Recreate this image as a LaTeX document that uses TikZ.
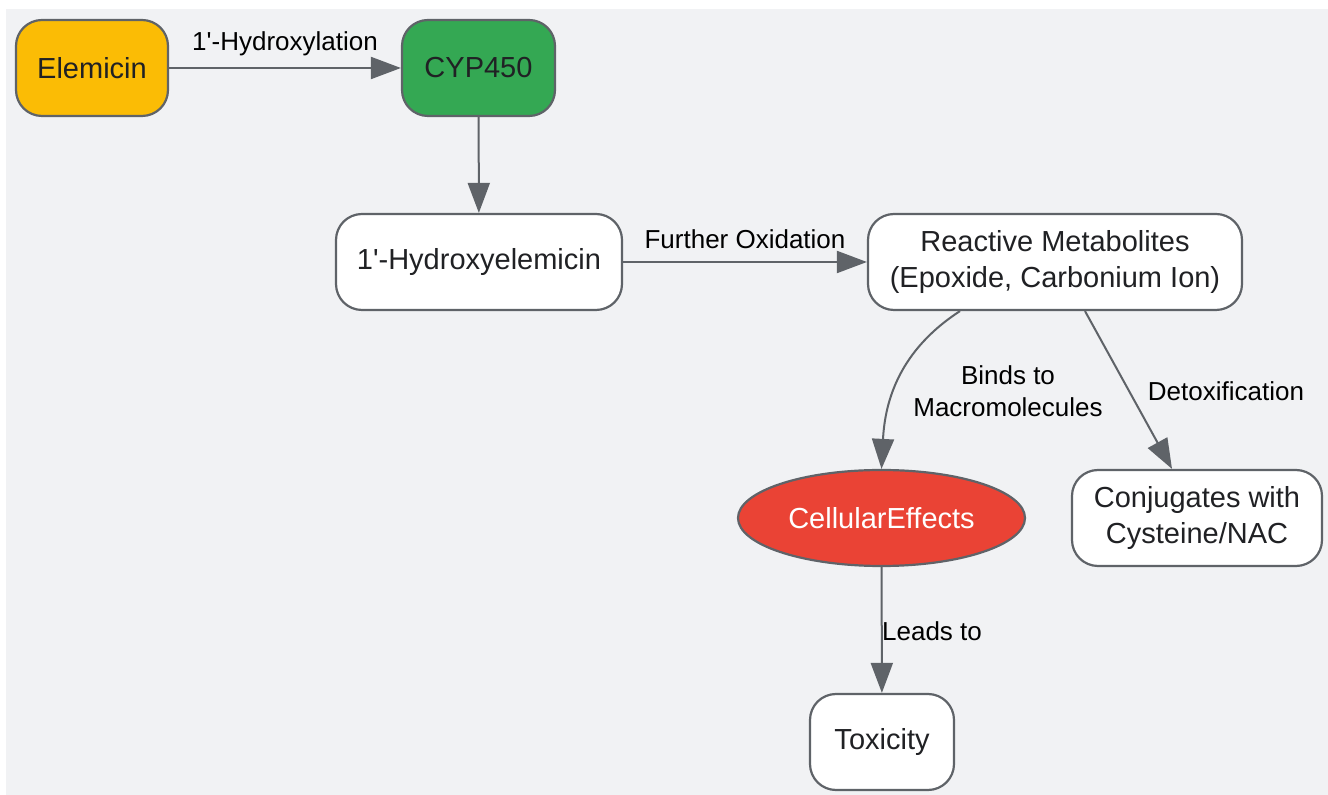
\documentclass[tikz,border=0pt]{standalone}
\usepackage{fontspec}
\setmainfont{Liberation Sans}
\usetikzlibrary{calc}
\usetikzlibrary{positioning}
\usetikzlibrary{shapes.geometric}
\usetikzlibrary{arrows.meta}

\definecolor{bggray}{HTML}{F1F2F4}
\definecolor{edgegray}{HTML}{5F6368}
\definecolor{gyellow}{HTML}{FBBC05}
\definecolor{ggreen}{HTML}{34A853}
\definecolor{gred}{HTML}{EA4335}
\definecolor{txtdark}{HTML}{202124}

\tikzset{
  box/.style={draw=edgegray, line width=1.1pt, rounded corners=13pt, fill=white,
    inner sep=0pt, minimum height=48pt, align=center, text=txtdark,
    font=\fontsize{14.5}{18}\selectfont},
  oval/.style={box, ellipse, rounded corners=0pt},
  lbl/.style={inner sep=0pt, align=center, text=black,
    font=\fontsize{13}{16}\selectfont},
  arr/.style={draw=edgegray, line width=1pt,
    -{Triangle[length=15pt, width=11pt, fill=edgegray]}},
}

\begin{document}
\begin{tikzpicture}[x=0.5pt, y=-0.5pt]
            % Canvas
            \useasboundingbox (0,0) rectangle (1328,795);
            \fill[bggray] (6,9) rectangle (1328,795);

            % Nodes
            \node[box, fill=gyellow, minimum width=76pt] (elem) at (92,68) {Elemicin};
            \node[box, fill=ggreen, minimum width=76.5pt] (cyp) at (478.5,68) {CYP450};
            \node[box, minimum width=143pt] (hydroxy) at (479,262) {1\textquotesingle-Hydroxyelemicin};
            \node[box, minimum width=187pt] (reactive) at (1055,262) {Reactive Metabolites\\(Epoxide, Carbonium Ion)};
            \node[oval, fill=gred, text=white, minimum width=143.5pt] (cellular) at (881.5,518) {CellularEffects};
            \node[box, minimum width=125pt] (conj) at (1197,518) {Conjugates with\\Cysteine/NAC};
            \node[box, minimum width=72pt] (tox) at (882,742) {Toxicity};

            % Connectors
            \draw[arr] (elem) -- (cyp);
            \draw[arr] (cyp) -- (hydroxy);
            \draw[arr] (hydroxy) -- (reactive);
            \draw[arr] ([xshift=-47.5pt]reactive.south) .. controls (900,350) and (885,400) .. (cellular.north);
            \draw[arr] ([xshift=15pt]reactive.south) -- ([xshift=-12.5pt]conj.north);
            \draw[arr] (cellular) -- (tox);

            % Labels
            \node[lbl] (hydroxylation) at (285,44) {1\textquotesingle-Hydroxylation};
            \node[lbl] (oxidation) at (745,239) {Further Oxidation};
            \node[lbl] (binds) at (1008,391) {Binds to\\Macromolecules};
            \node[lbl] (detox) at (1226,391) {Detoxification};
            \node[lbl] (leads) at (932,631) {Leads to};

        \end{tikzpicture}
\end{document}
